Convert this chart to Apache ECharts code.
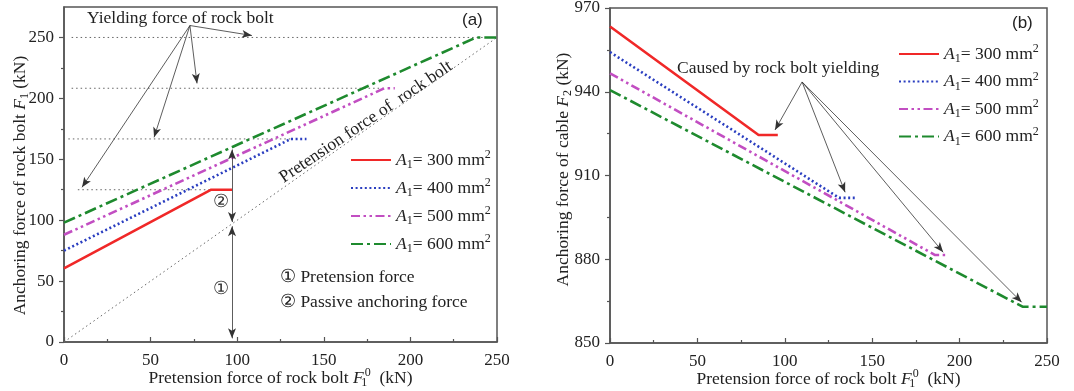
<!DOCTYPE html>
<html><head><meta charset="utf-8">
<script src="https://cdn.jsdelivr.net/npm/echarts@6/dist/echarts.min.js"></script>
<style>html,body{margin:0;padding:0;background:#fff}#c{width:1074px;height:391px}</style>
</head><body><div id="c"></div><script>
// ---------- data ----------
const xTicks = [0, 50, 100, 150, 200, 250];
const leftYTicks = [0, 50, 100, 150, 200, 250];
const leftYMinor = [25, 75, 125, 175, 225];
const rightYTicks = [850, 880, 910, 940, 970];
const rightYMinor = [865, 895, 925, 955];
const areas = ['300', '400', '500', '600'];
// left panel: [F1^0, F1]
const leftA300 = [[0, 60.5], [85, 125], [97, 125]];
const leftA400 = [[0, 75], [131, 166.7], [140, 166.7]];
const leftA500 = [[0, 88], [185, 208.3], [191, 208.3]];
const leftA600 = [[0, 98], [238, 250], [250, 250]];
// right panel: [F1^0, F2]
const rightA300 = [[0, 963.4], [85, 924.5], [96, 924.5]];
const rightA400 = [[0, 954.2], [131, 902], [140, 902]];
const rightA500 = [[0, 946.6], [186, 881.5], [192, 881.5]];
const rightA600 = [[0, 940.6], [236, 863], [250, 863]];
// yielding force reference lines
const yieldForces = [125, 166.7, 208.3, 250];
const yieldStart = [8, 2.5, 4.4, 4.4];
const yieldEnd = [85, 131, 185, 250];
const pretensionLine = [[0, 0], [250, 250]];
// annotation arrows
const leftArrowFrom = [72.7, 259.8];
const leftArrowTo = [[108.5, 251.6], [76.8, 212.3], [52, 168], [10.4, 127]];
const rightArrowFrom = [109.9, 943.5];
const rightArrowTo = [[94.4, 926.3], [134.5, 904], [190.6, 882.5], [235.5, 864.6]];
const dimArrows = [[[97, 158], [97, 98.5]], [[97, 95], [97, 3]]];
const circleLabels = [['②', 90.5, 115], ['①', 90.5, 43]];

// ---------- styles ----------
const SERIF = '"Liberation Serif", "Times New Roman", serif';
const colors = ['#f02828', '#2a3ec0', '#c24ec2', '#1e8a2e'];
const dashes = ['solid', [2, 2.6], [9, 3.5, 2.5, 3.5, 2.5, 3.5], [12, 4, 3, 4]];
const names = areas.map(a => 'A1= ' + a + ' mm2');
const FS = 17.5;
const rich = {
  t: { fontFamily: SERIF, fontSize: FS, color: '#222', lineHeight: 22 },
  i: { fontFamily: SERIF, fontSize: FS, fontStyle: 'italic', color: '#222', lineHeight: 22 },
  sub: { fontFamily: SERIF, fontSize: 12, color: '#222', lineHeight: 12, verticalAlign: 'bottom' },
  subz: { fontFamily: SERIF, fontSize: 12, color: '#222', lineHeight: 12, verticalAlign: 'bottom', width: 1 },
  sup: { fontFamily: SERIF, fontSize: 12, color: '#222', lineHeight: 12, verticalAlign: 'top' }
};
const AX = '#555';

function xAxisCfg(grid) {
  return {
    gridIndex: grid, type: 'value', min: 0, max: 250, interval: 50,
    axisLine: { lineStyle: { color: AX, width: 1.5 } },
    axisTick: { inside: true, length: 5, lineStyle: { color: AX, width: 1.2 } },
    minorTick: { show: true, splitNumber: 2, length: 3, lineStyle: { color: AX, width: 1.2 } },
    splitLine: { show: false }, minorSplitLine: { show: false },
    axisLabel: { margin: 10, fontFamily: SERIF, fontSize: 17, color: '#222' },
    name: '{t|Pretension force of rock bolt }{i|F}{subz|1}{sup|0}{t|  (kN)}',
    nameLocation: 'middle', nameGap: 25, nameMoveOverlap: false,
    nameTextStyle: { rich: rich }
  };
}
function yAxisMain(grid, min, max, ticks, name, gap, pad) {
  return {
    gridIndex: grid, type: 'value', min: min, max: max, position: 'left',
    axisLine: { show: true, lineStyle: { color: AX, width: 1.5 } },
    axisTick: { show: true, inside: false, length: 5, customValues: ticks, lineStyle: { color: AX, width: 1.2 } },
    axisLabel: { margin: 10, customValues: ticks, fontFamily: SERIF, fontSize: 17, color: '#222' },
    splitLine: { show: false },
    name: name, nameLocation: 'middle', nameGap: gap, nameRotate: 90, nameMoveOverlap: false,
    nameTextStyle: { rich: rich, padding: pad }
  };
}
function yAxisMinor(grid, min, max, ticks) {
  return {
    gridIndex: grid, type: 'value', min: min, max: max, position: 'left', offset: 0,
    axisLine: { show: false },
    axisTick: { show: true, inside: false, length: 3, customValues: ticks, lineStyle: { color: AX, width: 1.2 } },
    axisLabel: { show: false }, splitLine: { show: false }
  };
}

const series = [];
yieldForces.forEach((f, k) => {
  series.push({
    type: 'line', xAxisIndex: 0, yAxisIndex: 0, symbol: 'none', silent: true, z: 1,
    data: [[yieldStart[k], f], [yieldEnd[k], f]],
    lineStyle: { color: '#666', width: 1, type: [1.5, 3] }
  });
});
series.push({
  type: 'line', xAxisIndex: 0, yAxisIndex: 0, symbol: 'none', silent: true, z: 1,
  data: pretensionLine, lineStyle: { color: '#666', width: 1, type: [1.5, 3] }
});
const leftData = [leftA300, leftA400, leftA500, leftA600];
const rightData = [rightA300, rightA400, rightA500, rightA600];
leftData.forEach((d, k) => series.push({
  name: names[k], type: 'line', xAxisIndex: 0, yAxisIndex: 0, symbol: 'none', showSymbol: false, z: 3,
  data: d, color: colors[k], lineStyle: { color: colors[k], width: 2.6, type: dashes[k] }
}));
rightData.forEach((d, k) => series.push({
  name: names[k], type: 'line', xAxisIndex: 1, yAxisIndex: 2, symbol: 'none', showSymbol: false, z: 3,
  data: d, color: colors[k], lineStyle: { color: colors[k], width: 2.6, type: dashes[k] }
}));

const arrowLS = { color: '#333', width: 0.8, type: 'solid' };
series.push({
  type: 'line', xAxisIndex: 0, yAxisIndex: 0, data: [], symbol: 'none', z: 4,
  markLine: {
    silent: true, animation: false, symbol: ['none', 'arrow'], symbolSize: [6, 10],
    label: { show: false }, lineStyle: arrowLS,
    data: leftArrowTo.map(p => [{ coord: leftArrowFrom }, { coord: p }])
      .concat(dimArrows.map(s => [{ coord: s[0], symbol: 'arrow' }, { coord: s[1], symbol: 'arrow' }]))
  },
  markPoint: {
    silent: true, symbol: 'circle', symbolSize: 0,
    data: circleLabels.map(c => ({ coord: [c[1], c[2]], value: c[0] })),
    label: { show: true, position: 'inside', formatter: p => p.value, fontFamily: SERIF, fontSize: 18, color: '#333' }
  }
});
series.push({
  type: 'line', xAxisIndex: 1, yAxisIndex: 2, data: [], symbol: 'none', z: 4,
  markLine: {
    silent: true, animation: false, symbol: ['none', 'arrow'], symbolSize: [6, 10],
    label: { show: false }, lineStyle: arrowLS,
    data: rightArrowTo.map(p => [{ coord: rightArrowFrom }, { coord: p }])
  }
});

function legendCfg(left, top, gap) {
  return {
    orient: 'vertical', left: left, top: top, itemWidth: 40, itemHeight: 14, itemGap: gap,
    data: names, selectedMode: false,
    itemStyle: { opacity: 0 },
    formatter: n => '{i|A}{sub|1}{t|= ' + n.split(' ')[1] + ' mm}{sup|2}',
    textStyle: { rich: rich }
  };
}

const option = {
  animation: false,
  backgroundColor: '#fff',
  grid: [
    { left: 64, top: 7, width: 433, height: 335, show: true, borderColor: AX, borderWidth: 1.5, outerBoundsMode: 'none', containLabel: false },
    { left: 610, top: 8, width: 437, height: 335, show: true, borderColor: AX, borderWidth: 1.5, outerBoundsMode: 'none', containLabel: false }
  ],
  xAxis: [xAxisCfg(0), xAxisCfg(1)],
  yAxis: [
    yAxisMain(0, 0, 275, leftYTicks, '{t|Anchoring force of rock bolt }{i|F}{sub|1}{t| (kN)}', 33, [0, 22, 0, 0]),
    yAxisMinor(0, 0, 275, leftYMinor),
    yAxisMain(1, 850, 970, rightYTicks, '{t|Anchoring force of cable }{i|F}{sub|2}{t| (kN)}', 36, [0, 0, 0, 12]),
    yAxisMinor(1, 850, 970, rightYMinor)
  ],
  legend: [legendCfg(345, 144, 6), legendCfg(893, 38, 5.5)],
  graphic: [
    { type: 'text', left: 87, top: 9, style: { text: 'Yielding force of rock bolt', font: FS + 'px ' + SERIF, fill: '#222' } },
    { type: 'text', left: 677, top: 59, style: { text: 'Caused by rock bolt yielding', font: FS + 'px ' + SERIF, fill: '#222' } },
    { type: 'text', left: 462, top: 12, style: { text: '(a)', font: '17px "Liberation Sans", Arial, sans-serif', fill: '#222' } },
    { type: 'text', left: 1012, top: 15, style: { text: '(b)', font: '17px "Liberation Sans", Arial, sans-serif', fill: '#222' } },
    { type: 'text', x: 366, y: 122, rotation: 34 * Math.PI / 180,
      style: { text: 'Pretension force of  rock bolt', font: FS + 'px ' + SERIF, fill: '#222', align: 'center', verticalAlign: 'middle' } },
    { type: 'text', left: 280, top: 268, style: { text: '① Pretension force', font: FS + 'px ' + SERIF, fill: '#222' } },
    { type: 'text', left: 280, top: 293, style: { text: '② Passive anchoring force', font: FS + 'px ' + SERIF, fill: '#222' } }
  ],
  series: series
};
const chart = echarts.init(document.getElementById('c'), null, { renderer: 'canvas' });
chart.setOption(option);
</script></body></html>
